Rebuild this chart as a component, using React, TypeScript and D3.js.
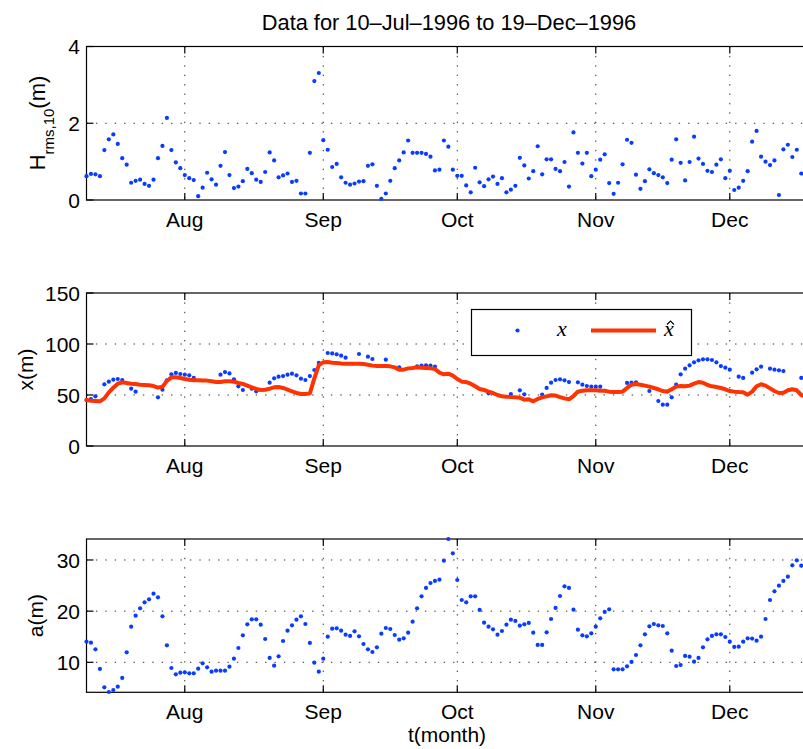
import React from "react";
import * as d3 from "d3";

// Daily samples, 10-Jul-1996 onward (index = day offset)
const START = Date.UTC(1996, 6, 10);
const END = Date.UTC(1996, 11, 19);
const DAY = 86400000;

const monthTicks = [
  Date.UTC(1996, 7, 1),
  Date.UTC(1996, 8, 1),
  Date.UTC(1996, 9, 1),
  Date.UTC(1996, 10, 1),
  Date.UTC(1996, 11, 1),
];
const monthLabels = ["Aug", "Sep", "Oct", "Nov", "Dec"];

// Wave height Hrms,10 (m)
const hrms = [
  0.62, 0.68, 0.67, 0.62, 1.3, 1.58, 1.71, 1.46, 1.09, 0.92,
  0.45, 0.5, 0.53, 0.42, 0.37, 0.53, 1.09, 1.41, 2.14, 1.3,
  0.98, 0.83, 0.65, 0.57, 0.52, 0.1, 0.32, 0.71, 0.54, 0.4,
  0.89, 1.25, 0.65, 0.31, 0.35, 0.49, 0.81, 0.7, 0.53, 0.47,
  0.73, 1.24, 1.03, 0.59, 0.64, 0.69, 0.47, 0.5, 0.17, 0.17,
  1.23, 3.1, 3.31, 1.56, 1.31, 0.86, 0.94, 0.59, 0.45, 0.4,
  0.43, 0.48, 0.49, 0.89, 0.93, 0.37, 0.03, 0.17, 0.5, 0.83,
  1.03, 1.24, 1.55, 1.23, 1.23, 1.23, 1.2, 1.13, 0.77, 0.79,
  1.55, 1.39, 0.79, 0.63, 0.63, 0.38, 0.2, 0.84, 0.46, 0.36,
  0.54, 0.61, 0.42, 0.57, 0.2, 0.27, 0.37, 1.1, 0.9, 0.56,
  0.75, 1.4, 0.67, 1.06, 1.06, 0.81, 0.75, 0.99, 0.35, 1.76,
  1.23, 0.95, 1.23, 0.62, 0.79, 1.05, 1.19, 0.44, 0.16, 0.45,
  0.93, 1.57, 1.49, 0.66, 0.29, 0.49, 0.8, 0.7, 0.65, 0.59,
  0.44, 1.05, 1.58, 0.97, 0.51, 0.99, 1.65, 1.08, 0.94, 0.76,
  0.73, 0.92, 1.06, 0.57, 0.76, 0.26, 0.32, 0.5, 0.75, 1.52,
  1.8, 1.13, 1.0, 0.91, 1.03, 0.13, 1.32, 1.44, 1.12, 1.31,
  0.69,
];

// Shoreline position x (m); null = no observation shown
const shoreX = [
  45.1, 46.1, 48.7, null, 60.5, 63.1, 65.0, 65.7, 64.7, null,
  56.2, 53.3, null, null, null, null, 47.7, 55.2, 64.4, 70.3,
  71.6, 70.6, 69.9, 69.3, 66.7, null, null, null, null, null,
  69.9, 72.5, 71.2, 65.4, 58.5, 54.9, null, 56.2, 53.6, null,
  null, 62.1, 66.3, 68.0, 68.6, 69.9, 70.9, 69.3, 66.0, 64.7,
  68.6, 74.5, 81.4, null, 91.2, 90.8, 89.9, 88.6, 86.6, null,
  null, 90.2, null, 87.6, 85.3, null, null, 84.6, null, null,
  77.1, null, null, null, 78.1, 78.8, 79.1, 78.8, 77.8, null,
  null, null, null, null, null, null, null, null, null, null,
  51.6, null, null, null, null, 51.0, null, 54.6, 50.7, null,
  null, null, 50.5, 56.9, 62.1, 64.7, 65.4, 64.4, 62.7, null,
  62.4, 60.1, 58.8, 58.2, 58.2, 58.2, null, null, null, null,
  null, 61.8, 62.1, 62.4, null, null, 53.9, null, 44.1, 40.5,
  40.5, 47.7, 60.1, 70.3, 75.8, 79.1, 82.0, 84.0, 85.0, 85.0,
  84.3, 82.0, 78.4, 76.8, 74.8, null, 68.0, 66.7, null, 71.9,
  75.2, 77.8, null, 75.8, 74.8, 74.2, 73.5, null, null, null,
  66.7,
];

// Model estimate x-hat (m)
const shoreXhat = [
  45.1, 44.4, 44.1, 43.8, 46.7, 52.6, 57.2, 61.1, 62.4, 61.8,
  61.1, 60.8, 60.1, 59.8, 59.5, 58.8, 57.2, 58.2, 63.7, 67.3,
  67.3, 66.7, 65.7, 65.0, 64.4, 64.4, 64.1, 64.1, 63.4, 62.7,
  62.7, 63.4, 63.4, 63.1, 61.8, 60.8, 59.2, 57.5, 55.9, 54.9,
  55.2, 56.2, 57.5, 57.8, 56.9, 55.2, 53.6, 52.0, 51.0, 51.0,
  51.6, 66.3, 79.4, 82.0, 82.4, 81.7, 81.4, 81.0, 80.7, 80.7,
  80.7, 80.7, 80.4, 79.7, 78.8, 78.4, 78.4, 78.4, 78.1, 77.1,
  74.8, 74.8, 76.1, 76.5, 77.1, 76.8, 76.5, 76.1, 75.5, 71.9,
  70.3, 70.9, 69.0, 65.7, 63.1, 62.7, 61.1, 58.5, 55.9, 54.9,
  53.3, 52.0, 50.0, 48.7, 48.4, 48.0, 47.7, 47.4, 45.4, 45.8,
  43.8, 46.1, 47.7, 48.7, 49.7, 49.4, 48.0, 46.7, 45.8, 49.0,
  53.3, 54.2, 54.6, 54.6, 54.6, 54.2, 54.2, 53.3, 52.9, 52.9,
  53.3, 56.9, 60.1, 60.8, 60.1, 59.2, 58.2, 56.9, 55.6, 53.9,
  53.3, 55.6, 58.2, 58.8, 58.5, 59.2, 61.1, 62.7, 62.1, 59.8,
  58.5, 57.8, 56.9, 55.6, 53.9, 53.3, 52.9, 52.6, 50.3, 53.3,
  58.5, 60.5, 59.2, 56.5, 53.9, 52.0, 52.3, 54.6, 55.6, 54.6,
  50.0, 48.4,
];

// Amplitude a (m)
const amp = [
  14.04, 13.84, 12.54, 8.7, 5.11, 4.2, 4.59, 5.24, 6.94, 11.95,
  16.97, 19.12, 20.55, 21.73, 22.31, 23.42, 22.7, 18.99, 13.32, 8.89,
  7.65, 7.98, 8.05, 7.85, 7.85, 8.76, 9.8, 9.02, 8.18, 8.37,
  8.37, 8.37, 9.15, 10.72, 12.8, 15.28, 17.43, 18.4, 18.4, 17.36,
  14.56, 10.85, 9.35, 11.17, 14.17, 16.19, 17.23, 18.34, 18.99, 17.49,
  13.78, 9.93, 8.18, 10.72, 15.02, 16.58, 16.65, 16.19, 15.41, 15.15,
  16.06, 15.08, 13.58, 12.54, 12.02, 12.93, 15.6, 16.71, 16.51, 15.34,
  14.43, 14.69, 15.8, 17.95, 20.55, 22.9, 24.53, 25.5, 25.9, 26.16,
  29.87, 34.1, 31.3, 26.09, 22.18, 21.73, 22.9, 22.9, 20.23, 17.75,
  16.97, 16.45, 15.41, 16.12, 17.36, 18.34, 18.08, 17.17, 17.43, 17.69,
  15.8, 13.39, 13.39, 15.86, 18.47, 20.62, 22.96, 24.85, 24.53, 20.29,
  16.38, 15.28, 15.08, 15.67, 16.97, 18.6, 19.84, 20.36, 8.63, 8.63,
  8.63, 9.22, 10.07, 11.43, 13.32, 15.47, 17.04, 17.49, 17.23, 17.1,
  15.67, 12.28, 9.28, 9.48, 11.24, 11.11, 10.13, 10.85, 12.93, 14.5,
  15.15, 15.47, 15.47, 14.95, 14.04, 13.0, 13.06, 14.04, 14.69, 14.63,
  14.23, 15.02, 18.47, 22.18, 23.88, 24.98, 25.9, 26.74, 28.96, 29.93,
  28.89,
];

const hrmsTicks = [0, 2, 4];
const shoreTicks = [0, 50, 100, 150];
const ampTicks = [10, 20, 30];

const FONT = "'Liberation Sans', Arial, Helvetica, sans-serif";
const SERIF = "'Liberation Serif', 'DejaVu Serif', serif";
const BLUE = "#0a3cff";
const RED = "#ff3300";
const LEFT = 86.5;
const RIGHT = 810.2;
const TICK = 7;

const xScale = d3.scaleUtc().domain([START, END]).range([LEFT, RIGHT]);
const dayX = (i: number) => xScale(START + i * DAY);

type PanelProps = {
  top: number;
  bottom: number;
  domain: [number, number];
  ticks: number[];
  children: (y: d3.ScaleLinear<number, number>) => React.ReactNode;
};

function Panel({ top, bottom, domain, ticks, children }: PanelProps) {
  const y = d3.scaleLinear().domain(domain).range([bottom, top]);
  const grid = "1.4 8";
  return (
    <g>
      {/* dotted grid */}
      {monthTicks.map((t) => (
        <line key={"gv" + t} x1={xScale(t)} x2={xScale(t)} y1={top} y2={bottom}
          stroke="#333" strokeWidth={1} strokeDasharray={grid} />
      ))}
      {ticks.filter((v) => y(v) > top + 1 && y(v) < bottom - 1).map((v) => (
        <line key={"gh" + v} x1={LEFT} x2={RIGHT} y1={y(v)} y2={y(v)}
          stroke="#333" strokeWidth={1} strokeDasharray={grid} />
      ))}
      {/* box */}
      <rect x={LEFT} y={top} width={RIGHT - LEFT} height={bottom - top}
        fill="none" stroke="#000" strokeWidth={1.2} />
      {/* ticks */}
      {monthTicks.map((t) => (
        <g key={"tx" + t}>
          <line x1={xScale(t)} x2={xScale(t)} y1={bottom} y2={bottom - TICK} stroke="#000" strokeWidth={1.2} />
          <line x1={xScale(t)} x2={xScale(t)} y1={top} y2={top + TICK} stroke="#000" strokeWidth={1.2} />
        </g>
      ))}
      {ticks.map((v) => (
        <g key={"ty" + v}>
          <line x1={LEFT} x2={LEFT + TICK} y1={y(v)} y2={y(v)} stroke="#000" strokeWidth={1.2} />
          <line x1={RIGHT} x2={RIGHT - TICK} y1={y(v)} y2={y(v)} stroke="#000" strokeWidth={1.2} />
          <text x={LEFT - 6.5} y={y(v)} dy="0.36em" textAnchor="end" fontSize={21} fontFamily={FONT}>
            {v}
          </text>
        </g>
      ))}
      {monthTicks.map((t, i) => (
        <text key={"lx" + t} x={xScale(t)} y={bottom + 26.7} textAnchor="middle" fontSize={21} fontFamily={FONT}>
          {monthLabels[i]}
        </text>
      ))}
      {children(y)}
    </g>
  );
}

function Dots({ values, y }: { values: (number | null)[]; y: d3.ScaleLinear<number, number> }) {
  return (
    <g>
      {values.map((v, i) =>
        v == null ? null : <circle key={i} cx={dayX(i)} cy={y(v)} r={2.1} fill={BLUE} />
      )}
    </g>
  );
}

export default function App() {
  const line = (y: d3.ScaleLinear<number, number>) =>
    d3
      .line<number>()
      .x((_, i) => dayX(i))
      .y((v) => y(v))(shoreXhat) || "";

  return (
    <svg width={803} height={749} style={{ position: "absolute", left: 0, top: 0, background: "#fff" }}>
      <rect width={803} height={749} fill="#fff" />
      <text x={449} y={30} textAnchor="middle" fontSize={21.8} fontFamily={FONT}>
        Data for 10–Jul–1996 to 19–Dec–1996
      </text>

      <Panel top={46.5} bottom={200} domain={[0, 4]} ticks={hrmsTicks}>
        {(y) => <Dots values={hrms} y={y} />}
      </Panel>
      <text transform="translate(45,123) rotate(-90)" textAnchor="middle" fontSize={22} fontFamily={FONT}>
        H<tspan fontSize={15} dy={9}>rms,10</tspan>
        <tspan dy={-9}>(m)</tspan>
      </text>

      <Panel top={293} bottom={446} domain={[0, 150]} ticks={shoreTicks}>
        {(y) => (
          <g>
            <Dots values={shoreX} y={y} />
            <path d={line(y)} fill="none" stroke={RED} strokeWidth={4} strokeLinejoin="round" strokeLinecap="round" />
          </g>
        )}
      </Panel>
      <text transform="translate(33,369.5) rotate(-90)" textAnchor="middle" fontSize={21} fontFamily={FONT}>
        x(m)
      </text>

      {/* legend */}
      <g>
        <rect x={471.5} y={309.5} width={220} height={46} fill="#fff" stroke="#000" strokeWidth={1.2} />
        <circle cx={517.5} cy={330.5} r={2.1} fill={BLUE} />
        <text x={562} y={336} textAnchor="middle" fontSize={22} fontStyle="italic" fontFamily={SERIF}>x</text>
        <line x1={591} x2={656} y1={330.5} y2={330.5} stroke={RED} strokeWidth={4} />
        <text x={669} y={336} textAnchor="middle" fontSize={22} fontStyle="italic" fontFamily={SERIF}>x</text>
        {/* circumflex accent over x-hat */}
        <path d="M667,324.5 L670.5,321 L674,324.5" fill="none" stroke="#000" strokeWidth={1.1} />
      </g>

      <Panel top={539} bottom={692.3} domain={[4.14, 34.1]} ticks={ampTicks}>
        {(y) => <Dots values={amp} y={y} />}
      </Panel>
      <text transform="translate(43,615.6) rotate(-90)" textAnchor="middle" fontSize={21} fontFamily={FONT}>
        a(m)
      </text>

      <text x={447} y={742} textAnchor="middle" fontSize={21} fontFamily={FONT}>
        t(month)
      </text>
    </svg>
  );
}
